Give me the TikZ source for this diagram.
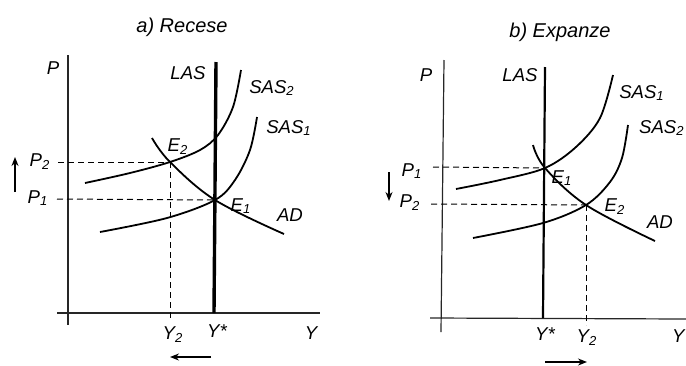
\documentclass[tikz,border=0pt]{standalone}
\usepackage{fontspec}
\setmainfont{Liberation Sans}
\usetikzlibrary{arrows.meta}
\tikzset{
  lbl/.style={font=\itshape\fontsize{9.3}{10}\selectfont, inner sep=0pt},
  ttl/.style={font=\itshape\fontsize{10}{11}\selectfont, inner sep=0pt},
  axisline/.style={line width=0.6pt, draw=black!85},
  curve/.style={line width=0.9pt},
  guide/.style={line width=0.5pt, dash pattern=on 3pt off 2pt},
  shiftarrow/.style={line width=0.7pt, -{Stealth[length=4.5pt,width=3.5pt]}},
}
\begin{document}
\begin{tikzpicture}[x=0.5pt,y=-0.5pt]
\useasboundingbox (0,0) rectangle (686,365);

% ================= a) Recese =================
\node[ttl] (ta) at (182,27) {a) Recese};
% axes
\coordinate (ayt) at (68,55);
\coordinate (ayb) at (68,325);
\coordinate (axl) at (57,313);
\coordinate (axr) at (320,313);
\draw[axisline] (ayt) -- (ayb);
\draw[axisline] (axl) -- (axr);
% key points
\coordinate (E2a) at (170,162);
\coordinate (E1a) at (215,200);
\coordinate (lasat) at (216,62);
\coordinate (lasab) at (214,313);
% LAS
\draw[line width=1.7pt] (lasat) -- (lasab);
% SAS2
\draw[curve] plot[smooth, tension=0.55] coordinates {(85,183) (130,173) (E2a) (200,150) (218,135) (233,107) (241,70)};
% SAS1
\draw[curve] plot[smooth, tension=0.55] coordinates {(100,232) (167,218) (E1a) (235,180) (250,150) (257,117)};
% AD
\draw[curve] plot[smooth, tension=0.6] coordinates {(152,138) (E2a) (E1a) (284,234)};
% guides
\coordinate (p2a) at (58,162);
\coordinate (p1a) at (57,199);
\coordinate (y2a) at (170,318);
\draw[guide] (p2a) -- (E2a);
\draw[guide] (p1a) -- (E1a);
\draw[guide] (E2a) -- (y2a);
% labels
\node[lbl] (Pa) at (53,68) {P};
\node[lbl] (LASa) at (188,73) {LAS};
\node[lbl] (SAS2a) at (272,88) {SAS\textsubscript{2}};
\node[lbl] (SAS1a) at (289,128) {SAS\textsubscript{1}};
\node[lbl] (E2la) at (178,147) {E\textsubscript{2}};
\node[lbl] (E1la) at (241,206) {E\textsubscript{1}};
\node[lbl] (ADa) at (290,215) {AD};
\node[lbl] (P2a) at (40,162) {P\textsubscript{2}};
\node[lbl] (P1a) at (38,198) {P\textsubscript{1}};
\node[lbl] (Y2a) at (173,335) {Y\textsubscript{2}};
\node[lbl] (Ysa) at (217,331) {Y*};
\node[lbl] (Ya) at (311,333) {Y};
% shift arrows
\coordinate (ua1) at (15,192);
\coordinate (ua2) at (15,157);
\draw[shiftarrow] (ua1) -- (ua2);
\coordinate (la1) at (211,357);
\coordinate (la2) at (170,357);
\draw[shiftarrow] (la1) -- (la2);

% ================= b) Expanze =================
\node[ttl] (tb) at (560,32) {b) Expanze};
\coordinate (byt) at (444,60);
\coordinate (byb) at (441,332);
\coordinate (bxl) at (430,318);
\coordinate (bxr) at (686,319);
\draw[axisline] (byt) -- (byb);
\draw[axisline] (bxl) -- (bxr);
\coordinate (E1b) at (545,168);
\coordinate (E2b) at (586,205);
\coordinate (lasbt) at (545,67);
\coordinate (lasbb) at (543,318);
\draw[line width=1.1pt] (lasbt) -- (lasbb);
% SAS1
\draw[curve] plot[smooth, tension=0.55] coordinates {(456,189) (500,180) (E1b) (576,147) (600,118) (613,75)};
% SAS2
\draw[curve] plot[smooth, tension=0.55] coordinates {(473,238) (543,223) (E2b) (610,182) (622,158) (628,125)};
% AD
\draw[curve] plot[smooth, tension=0.6] coordinates {(533,145) (E1b) (E2b) (655,241)};
% guides
\coordinate (p1b) at (433,167);
\coordinate (p2b) at (431,204);
\coordinate (y2b) at (586,325);
\draw[guide] (p1b) -- (E1b);
\draw[guide] (p2b) -- (E2b);
\draw[guide] (E2b) -- (y2b);
% labels
\node[lbl] (Pb) at (426,75) {P};
\node[lbl] (LASb) at (520,75) {LAS};
\node[lbl] (SAS1b) at (642,93) {SAS\textsubscript{1}};
\node[lbl,anchor=east] (SAS2b) at (685,128) {SAS\textsubscript{2}};
\node[lbl] (E1lb) at (562,178) {E\textsubscript{1}};
\node[lbl] (E2lb) at (615,207) {E\textsubscript{2}};
\node[lbl] (ADb) at (660,222) {AD};
\node[lbl] (P1b) at (412,171) {P\textsubscript{1}};
\node[lbl] (P2b) at (410,203) {P\textsubscript{2}};
\node[lbl] (Ysb) at (545,334) {Y*};
\node[lbl] (Y2b) at (587,338) {Y\textsubscript{2}};
\node[lbl,anchor=east] (Yb) at (685,336) {Y};
\coordinate (da1) at (389,172);
\coordinate (da2) at (389,201);
\draw[shiftarrow] (da1) -- (da2);
\coordinate (ra1) at (545,362);
\coordinate (ra2) at (587,362);
\draw[shiftarrow] (ra1) -- (ra2);
\end{tikzpicture}
\end{document}
